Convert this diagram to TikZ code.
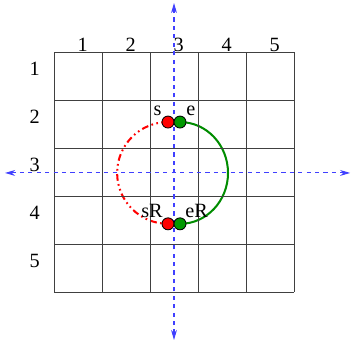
\documentclass[tikz,border=0pt]{standalone}
\usepackage{fontspec}
\setmainfont{Liberation Serif}
\usetikzlibrary{arrows.meta,backgrounds}

\begin{document}
\begin{tikzpicture}\fontsize{12}{14}\selectfont
\useasboundingbox (-1.125,-1.0625) rectangle (6.229,6.083);
\tikzset{axis/.style={blue!75!white, dash pattern=on 2.5pt off 2.5pt, line width=0.6pt, {Stealth[length=6pt,width=3.5pt]}-{Stealth[length=6pt,width=3.5pt]}},
  dot/.style={circle, draw=black, line width=0.5pt, inner sep=0pt, minimum size=0.25cm}}
% the 5x5 board
\draw[black!75, line width=0.55pt] (0,0) grid (5,5);
\foreach \i in {1,...,5}{
  \node at (\i-0.4,5.15) {\i};
  \node at (-0.4,5.65-\i) {\i};
}
% axes
\coordinate (top) at (2.5,6.02);
\coordinate (bot) at (2.5,-1.0);
\coordinate (lft) at (-1.02,2.48);
\coordinate (rgt) at (6.17,2.48);
\draw[axis] (bot) -- (top);
\draw[axis] (lft) -- (rgt);
% start and end points
\node[dot, fill=red, label={[label distance=-4.5pt]125:s}] (s) at (2.375,3.54) {};
\node[dot, fill=green!60!black, label={[label distance=-4.5pt]50:e}] (e) at (2.625,3.54) {};
\node[dot, fill=red, label={[label distance=-5pt]150:sR}] (sR) at (2.375,1.42) {};
\node[dot, fill=green!60!black, label={[label distance=-5pt]30:eR}] (eR) at (2.625,1.42) {};
\begin{scope}[on background layer]
\draw[green!55!black, line width=1.2pt] (e.center) arc[start angle=90, end angle=-90, x radius=1, y radius=1.06];
\draw[red, line width=1.2pt, dash pattern=on 4pt off 2pt on 1pt off 2pt on 1pt off 2pt] (s.center) arc[start angle=90, end angle=270, x radius=1.06, y radius=1.06];
\end{scope}
\end{tikzpicture}
\end{document}
